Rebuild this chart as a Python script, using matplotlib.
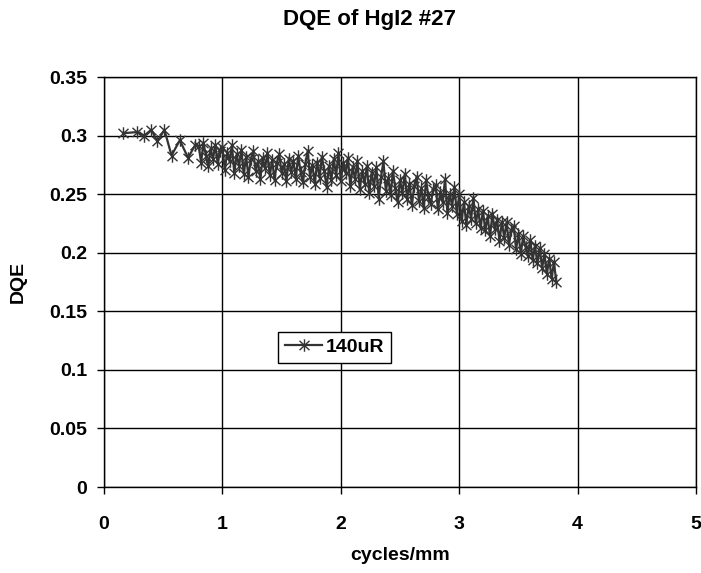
import matplotlib

matplotlib.use("Agg")
import matplotlib.pyplot as plt
from matplotlib.path import Path
from matplotlib.ticker import FuncFormatter

TITLE = "DQE of HgI2 #27"
X_LABEL = "cycles/mm"
Y_LABEL = "DQE"
SERIES_NAME = "140uR"

freq = [
    0.16, 0.28, 0.34, 0.40, 0.45, 0.51, 0.57, 0.64, 0.71, 0.77,
    0.80, 0.82, 0.84, 0.86, 0.88, 0.90, 0.92, 0.94, 0.96, 0.98,
    1.00, 1.02, 1.04, 1.06, 1.08, 1.10, 1.12, 1.14, 1.16, 1.18,
    1.20, 1.22, 1.24, 1.26, 1.28, 1.30, 1.32, 1.34, 1.36, 1.38,
    1.40, 1.42, 1.44, 1.46, 1.48, 1.50, 1.52, 1.54, 1.56, 1.58,
    1.60, 1.62, 1.64, 1.66, 1.68, 1.70, 1.72, 1.74, 1.76, 1.78,
    1.80, 1.82, 1.84, 1.86, 1.88, 1.90, 1.92, 1.94, 1.96, 1.98,
    2.00, 2.02, 2.04, 2.06, 2.08, 2.10, 2.12, 2.14, 2.16, 2.18,
    2.20, 2.22, 2.24, 2.26, 2.28, 2.30, 2.32, 2.34, 2.36, 2.38,
    2.40, 2.42, 2.44, 2.46, 2.48, 2.50, 2.52, 2.54, 2.56, 2.58,
    2.60, 2.62, 2.64, 2.66, 2.68, 2.70, 2.72, 2.74, 2.76, 2.78,
    2.80, 2.82, 2.84, 2.86, 2.88, 2.90, 2.92, 2.94, 2.96, 2.98,
    3.00, 3.02, 3.04, 3.06, 3.08, 3.10, 3.12, 3.14, 3.16, 3.18,
    3.20, 3.22, 3.24, 3.26, 3.28, 3.30, 3.32, 3.34, 3.36, 3.38,
    3.40, 3.42, 3.44, 3.46, 3.48, 3.50, 3.52, 3.54, 3.56, 3.58,
    3.60, 3.62, 3.64, 3.66, 3.68, 3.70, 3.72, 3.74, 3.76, 3.78,
    3.80, 3.82,
]

dqe = [
    0.302, 0.303, 0.300, 0.305, 0.295, 0.305, 0.283, 0.296, 0.281, 0.292,
    0.291, 0.277, 0.294, 0.283, 0.274, 0.289, 0.280, 0.292, 0.276, 0.287,
    0.290, 0.271, 0.285, 0.278, 0.292, 0.268, 0.284, 0.274, 0.288, 0.267,
    0.282, 0.265, 0.280, 0.287, 0.270, 0.278, 0.263, 0.281, 0.272, 0.285,
    0.266, 0.279, 0.262, 0.277, 0.284, 0.268, 0.276, 0.261, 0.280, 0.269,
    0.278, 0.263, 0.283, 0.269, 0.260, 0.276, 0.287, 0.265, 0.275, 0.259,
    0.277, 0.264, 0.282, 0.270, 0.256, 0.274, 0.262, 0.280, 0.266, 0.285,
    0.261, 0.277, 0.268, 0.281, 0.257, 0.273, 0.263, 0.278, 0.254, 0.270,
    0.259, 0.274, 0.251, 0.268, 0.257, 0.273, 0.246, 0.265, 0.278, 0.253,
    0.264, 0.249, 0.270, 0.255, 0.243, 0.262, 0.251, 0.267, 0.246, 0.259,
    0.241, 0.257, 0.265, 0.244, 0.255, 0.238, 0.262, 0.248, 0.242, 0.254,
    0.258, 0.237, 0.252, 0.243, 0.263, 0.234, 0.250, 0.240, 0.256, 0.233,
    0.250, 0.227, 0.243, 0.224, 0.240, 0.229, 0.247, 0.225, 0.237, 0.221,
    0.236, 0.219, 0.231, 0.214, 0.233, 0.220, 0.228, 0.210, 0.226, 0.213,
    0.226, 0.207, 0.219, 0.223, 0.203, 0.216, 0.199, 0.214, 0.205, 0.197,
    0.211, 0.194, 0.206, 0.191, 0.204, 0.187, 0.199, 0.182, 0.195, 0.178,
    0.192, 0.175,
]

x_ticks = [0, 1, 2, 3, 4, 5]
y_ticks = [0, 0.05, 0.1, 0.15, 0.2, 0.25, 0.3, 0.35]

# excel style star: an x with a vertical bar through it
star = Path(
    [(0, -1), (0, 1), (-0.8, -0.75), (0.8, 0.75), (-0.8, 0.75), (0.8, -0.75)],
    [Path.MOVETO, Path.LINETO, Path.MOVETO, Path.LINETO, Path.MOVETO, Path.LINETO],
)

plt.rcParams["font.family"] = ["Liberation Sans", "DejaVu Sans"]
plt.rcParams["font.weight"] = "bold"

fig = plt.figure(figsize=(7.01, 5.73), dpi=100)
ax = fig.add_axes([0.1484, 0.150, 0.8445, 0.7156])

ax.plot(freq, dqe, color="#333333", linewidth=1.6, marker=star,
        markersize=9, markeredgewidth=1.0, markeredgecolor="#333333",
        label=SERIES_NAME)

ax.set_xlim(0, 5)
ax.set_ylim(0, 0.35)
ax.set_xticks(x_ticks)
ax.set_yticks(y_ticks)
ax.yaxis.set_major_formatter(FuncFormatter(lambda v, p: f"{v:g}"))
ax.grid(True, color="black", linewidth=1.0)
ax.set_axisbelow(True)
for s in ax.spines.values():
    s.set_color("black")
    s.set_linewidth(1.0)
ax.tick_params(direction="out", length=5, width=1, colors="black",
               labelsize=14)
ax.tick_params(axis="x", pad=16)
ax.tick_params(axis="y", pad=7)

fig.text(370 / 701, 1 - 19 / 573, TITLE, fontsize=16, fontweight="bold",
         ha="center", va="center")
ax.set_xlabel(X_LABEL, fontsize=14, fontweight="bold", labelpad=10)
ax.set_ylabel(Y_LABEL, fontsize=14, fontweight="bold", labelpad=16)

leg = ax.legend(loc="center", bbox_to_anchor=(0.39, 0.341), fontsize=14,
                fancybox=False, framealpha=1, edgecolor="black",
                handlelength=1.9, handletextpad=0.2, borderpad=0.35,
                borderaxespad=0)
leg.get_frame().set_linewidth(1.0)
leg.legend_handles[0].set_markersize(9)

fig.savefig("out.png", dpi=100)
